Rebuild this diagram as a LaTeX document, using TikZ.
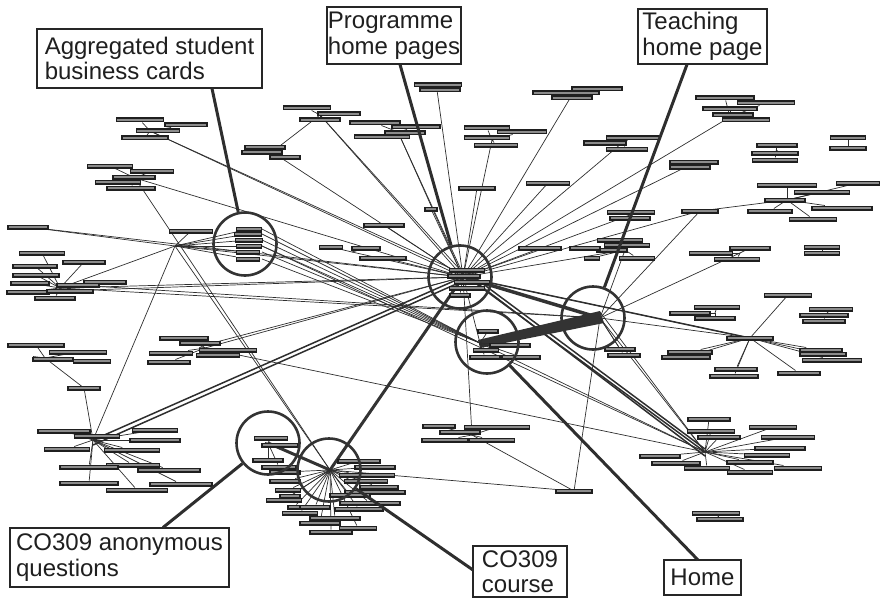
\documentclass[tikz,border=0pt]{standalone}
\usepackage{fontspec}
\setmainfont{Liberation Sans}
\pgfdeclarelayer{bg}
\pgfsetlayers{bg,main}
\tikzset{
  bar/.style={rectangle,draw=black!88,fill=black!45,line width=1.2pt,minimum height=3.8pt,inner sep=0pt},
  edge/.style={draw=black!82,line width=0.7pt},
  medge/.style={draw=black!82,line width=1.5pt},
  hedge/.style={draw=black!80,line width=3pt},
  lead/.style={draw=black!82,line width=3pt},
  ring/.style={circle,draw=black!80,line width=2.6pt,minimum size=63pt,inner sep=0pt},
  lab/.style={rectangle,draw=black!85,line width=1.8pt,fill=white,inner sep=0pt,
    font=\fontsize{24}{25.5}\selectfont,text=black!88,align=left},
}
\newcommand\clus[2]{\foreach \x/\y/\w in {#2}{\node[bar,minimum width=\w pt] (nb) at (\x,\y) {};
  \begin{pgfonlayer}{bg}\draw[edge] (#1) -- (nb);\end{pgfonlayer}}}
\begin{document}
\begin{tikzpicture}[x=1pt,y=-1pt]
\useasboundingbox (0,0) rectangle (883,599);
% hubs
\coordinate (P) at (463,277);
\coordinate (T) at (600,318);
\coordinate (H) at (480,343);
\coordinate (C) at (330,470);
\coordinate (Q) at (268,443);
\coordinate (A) at (175,246);
\coordinate (L1) at (93,440);
\coordinate (R1) at (750,338);
\coordinate (R2) at (705,452);
\coordinate (c1) at (150,131);
\coordinate (c2) at (135,178);
\coordinate (c3) at (60,288);
\coordinate (c4) at (28,227);
\coordinate (c5) at (437,90);
\coordinate (c6) at (320,115);
\coordinate (c7) at (398,132);
\coordinate (c8) at (492,140);
\coordinate (c9) at (572,95);
\coordinate (c10) at (477,188);
\coordinate (c11) at (548,183);
\coordinate (c12) at (431,209);
\coordinate (c13) at (384,225);
\coordinate (c14) at (352,252);
\coordinate (c15) at (272,152);
\coordinate (c17) at (730,117);
\coordinate (c18) at (622,143);
\coordinate (c19) at (776,152);
\coordinate (c20) at (848,143);
\coordinate (c21) at (690,165);
\coordinate (c22) at (787,200);
\coordinate (c23) at (700,211);
\coordinate (c24) at (630,215);
\coordinate (c25) at (625,250);
\coordinate (c26) at (740,253);
\coordinate (c27) at (822,250);
\coordinate (c28) at (788,295);
\coordinate (c29) at (715,313);
\coordinate (c30) at (825,315);
\coordinate (c31) at (718,516);
\coordinate (c32) at (472,435);
\coordinate (c33) at (574,491);
\coordinate (c34) at (45,358);
\coordinate (c35) at (84,388);
\coordinate (c36) at (205,348);
\coordinate (c37) at (385,258);
\coordinate (c38) at (545,248);
% long edges
\begin{pgfonlayer}{bg}
\foreach \t in {c1,c2,c3,c4,c5,c6,c7,c8,c9,c10,c11,c12,c13,c14,c15,c17,c18,c21,c23,c24,c25,c32,R1,H,c36,c37,c38}
  \draw[edge] (P) -- (\t);
\draw[edge] ([yshift=4pt]P) -- (c6);
\draw[edge] ([yshift=3pt]P) -- (c7);
\draw[edge] ([yshift=3pt]P) -- (c1);
\draw[edge] (c3) -- (T);
\draw[edge] ([yshift=4pt]c3) -- (T);
\draw[edge] ([yshift=-3pt]c3) -- (P);
\draw[edge] (A) -- (c3);
\draw[edge] (A) -- (c4);
\draw[edge] (A) -- (L1);
\draw[edge] (A) -- (C);
\draw[edge] (A) -- (P);
\draw[edge] (c2) -- (C);
\draw[edge] (c34) -- (c35) -- (L1);
\draw[edge] ([yshift=3pt]c36) -- (P);
\draw[edge] (c36) -- (R2);
\draw[edge] (T) -- (c23) -- (c22);
\draw[edge] (T) -- (c26);
\draw[edge] (T) -- (R1);
\draw[edge] (T) -- (c33);
\draw[edge] (T) -- (c25);
\draw[edge] (T) -- (R2);
\draw[edge] ([yshift=6pt]T) -- (R2);
\draw[edge] (c32) -- (c33);
\draw[edge] (C) -- (c33);
\draw[edge] (H) -- (R2);
\draw[edge] (c19) -- ++(0,-6);
\draw[edge] (848,138) -- (848,148);
\draw[edge] (822,247) -- (822,253);
\draw[edge] (716,513) -- (720,519);
\draw[edge] (c15) -- (c6);
% heavier edges
\draw[medge] (L1) -- (P);
\draw[medge] ([yshift=-5pt]L1) -- ([yshift=-4pt]P);
\draw[medge] ([yshift=3pt]P) -- (R2);
\draw[medge] ([yshift=8pt]P) -- ([yshift=3pt]R2);
\draw[medge] ([xshift=6pt]P) -- ([yshift=-4pt]R2);
\draw[medge] (P) -- (R1);
\draw[hedge] (P) -- (C);
\draw[hedge] (Q) -- (C);
\draw[draw=black!80,line width=3.5pt] (P) -- (T);
\fill[black!80] (478,340) -- (600,311) -- (604,323) -- (480,348) -- cycle;
\end{pgfonlayer}
% clusters
\clus{c1}{140/120/47,186/125/42,158/131/43,145/138/46}
\clus{c2}{110/166/45,152/171/43,134/177/42,118/182/45,131/188/48}
\clus{c3}{42/253/45,84/262/42,35/266/44,36/275/46,105/282/42,30/283/38,78/285/42,28/292/42,70/291/46,55/298/40}
\clus{c4}{28/227/40}
\clus{c5}{438/85/47,440/90/40}
\clus{c6}{307/108/47,339/114/42,320/120/40}
\clus{c7}{375/123/50,416/127/48,405/133/40,382/137/55}
\clus{c8}{487/128/45,522/132/49,487/138/45,496/145/43}
\clus{c9}{566/93/66,597/89/50,572/98/40}
\clus{c10}{477/188/36}
\clus{c11}{548/183/43}
\clus{c12}{431/209/12}
\clus{c13}{384/225/40}
\clus{c14}{331/247/23,366/248/28}
\clus{c37}{383/258/46}
\clus{c38}{540/248/42}
\clus{c15}{265/147/40,262/152/40,285/157/30}
\clus{c17}{725/98/58,766/103/57,730/109/54,733/115/40,746/120/47}
\clus{c18}{633/138/53,605/143/42,627/149/41}
\clus{c19}{777/145/40,775/153/46,775/160/45}
\clus{c20}{848/138/35,848/148/36}
\clus{c21}{694/162/48,690/167/40}
\clus{c22}{787/185/59,858/183/43,822/192/55,785/200/40,842/208/60,770/211/44,813/219/47}
\clus{c23}{700/211/36}
\clus{c24}{631/212/47,630/218/40}
\clus{c25}{620/240/45,627/245/45,612/250/30,637/258/35,585/248/30,592/258/15}
\clus{c26}{711/253/43,750/248/40,737/259/45}
\clus{c27}{822/247/35,822/253/35}
\clus{c28}{788/295/47}
\clus{c29}{717/307/45,690/313/40,715/318/40}
\clus{c30}{831/309/43,824/315/48,824/321/42}
\clus{R1}{750/338/46,690/352/44,686/357/48,736/369/42,734/376/48,799/373/42,821/350/42,823/354/46,832/360/59,788/295/47}
\clus{R2}{709/419/42,711/431/47,719/437/42,773/427/47,788/437/53,780/448/50,767/455/45,660/456/40,676/463/48,707/468/45,750/462/46,750/472/45,798/468/47}
\clus{c31}{716/513/47,720/519/46}
\clus{c32}{439/426/32,497/427/65,460/432/40,445/440/46,492/440/45}
\clus{c33}{574/491/36}
\clus{L1}{64/431/52,97/436/45,155/430/45,155/440/50,67/449/45,132/450/55,133/465/53,169/470/62,89/467/58,181/484/62,89/483/58,137/490/61}
\clus{c34}{36/345/56,78/352/57,53/359/40,92/361/37}
\clus{c35}{84/388/32}
\clus{c36}{184/338/48,200/343/40,171/353/43,228/350/57,218/355/43,169/362/42}
\clus{H}{488/331/20,510/345/40,486/350/25,485/357/30,521/357/38}
\clus{T}{620/349/30,624/355/32}
\clus{P}{467/270/35,464/276/32,472/282/35,467/288/35,460/295/20}
\clus{A}{249/229/25,248/234/27,249/240/27,249/246/25,248/252/23,248/259/23,191/231/43}
\clus{Q}{271/438/33,280/445/36,268/460/30,279/467/34}
\clus{C}{359/461/42,375/467/40,367/475/55,366/481/43,379/487/38,375/492/60,350/495/40,370/503/60,315/507/30,359/509/48,335/518/50,358/528/37,320/523/40,331/532/42,285/481/30,288/490/25,290/496/20,294/507/12,284/500/35,300/513/35,285/472/30}
\begin{pgfonlayer}{bg}
\foreach \y in {229,234,240,246,252,259}{\draw[edge] (262,\y) -- (H);}
\draw[edge] (262,246) -- (R2);
\end{pgfonlayer}
% rings
\node[ring] (rA) at (245,244) {};
\node[ring] (rP) at (460,277) {};
\node[ring] (rT) at (593,318) {};
\node[ring] (rH) at (487,342) {};
\node[ring] (rC) at (329,470) {};
\node[ring] (rQ) at (268,443) {};
% labels
\node[lab,minimum width=225pt,minimum height=59pt] (lA) at (149.5,58.5) {Aggregated student\\business cards};
\node[lab,minimum width=134pt,minimum height=57pt] (lP) at (394,35.5) {Programme\\home pages};
\node[lab,minimum width=129pt,minimum height=55pt] (lT) at (702.5,36.5) {Teaching\\home page};
\node[lab,minimum width=219pt,minimum height=59pt] (lQ) at (119.5,557.5) {CO309 anonymous\\questions};
\node[lab,minimum width=94pt,minimum height=51pt] (lC) at (520,571.5) {CO309\\course};
\node[lab,minimum width=77pt,minimum height=35pt] (lH) at (702.5,577.5) {Home};
% leaders
\coordinate (sA) at (212,88.5);
\coordinate (sP) at (400,64.5);
\coordinate (sT) at (687,64.5);
\coordinate (sQ) at (163,527.5);
\coordinate (sC) at (473,570);
\coordinate (sH) at (698,560);
\draw[lead] (sA) -- (rA);
\draw[lead] (sP) -- (rP);
\draw[lead] (sT) -- (rT);
\draw[lead] (sQ) -- (rQ);
\draw[lead] (sC) -- (rC);
\draw[lead] (sH) -- (rH);
\end{tikzpicture}
\end{document}
